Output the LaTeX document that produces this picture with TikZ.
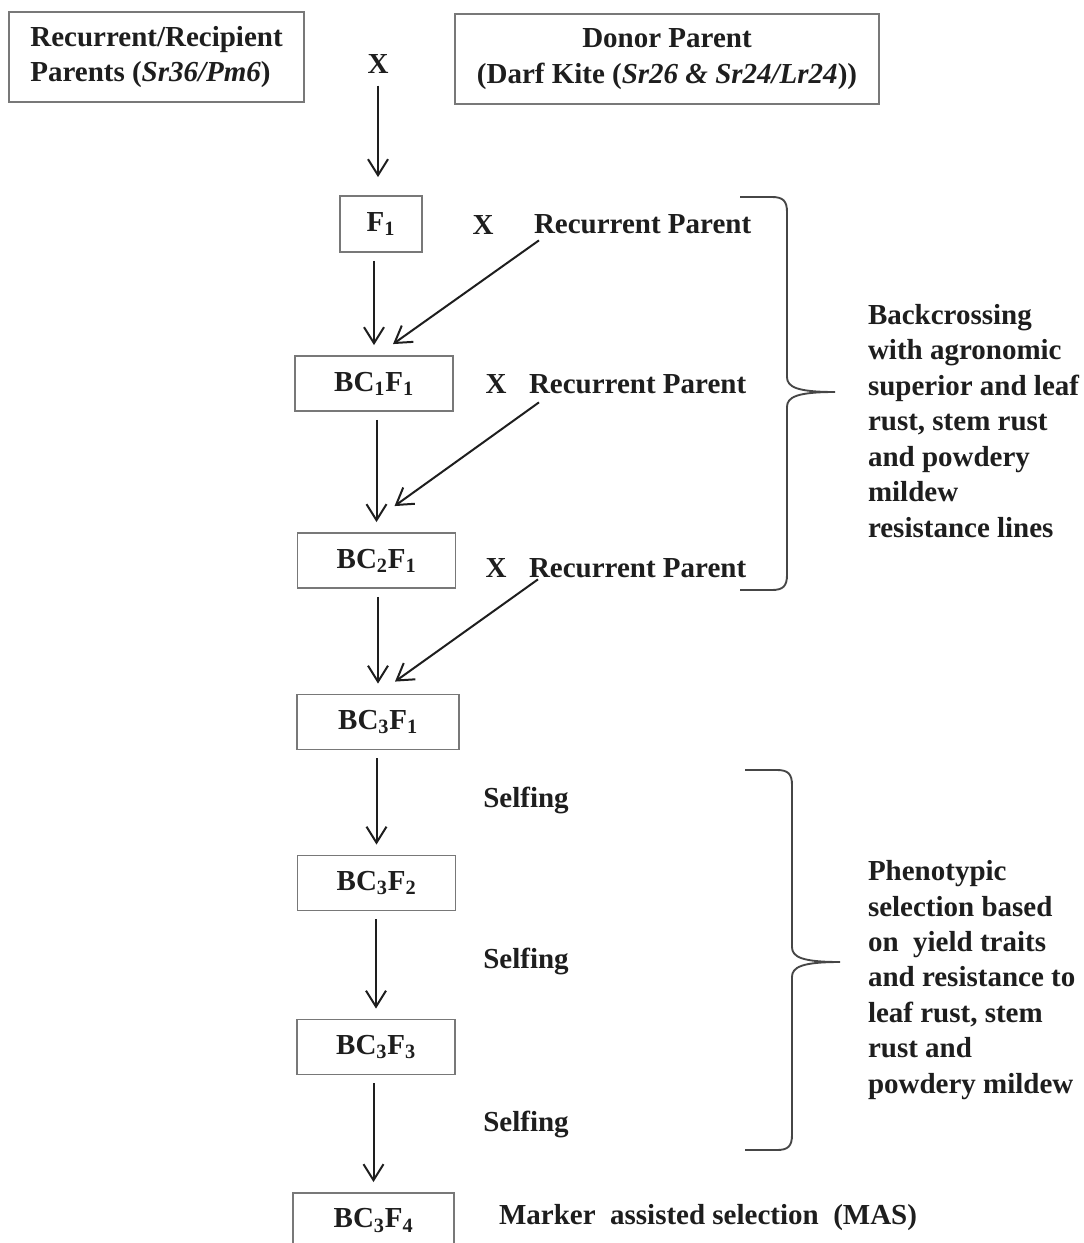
\documentclass[tikz,border=0pt]{standalone}
\usepackage{fontspec}
\setmainfont{Liberation Serif}
\usetikzlibrary{arrows.meta,calc}
\definecolor{inkblack}{RGB}{30,30,30}
\definecolor{boxgray}{RGB}{120,120,120}
\definecolor{bracegray}{RGB}{70,70,70}
\tikzset{every picture/.style={line width=1.5pt}}
\tikzset{
  every node/.style={font=\fontsize{21.75}{26.6}\selectfont\bfseries, text=inkblack},
  genbox/.style={draw=boxgray, line width=1.4pt, inner sep=0.75pt},
  lbl/.style={inner sep=0.75pt},
  flow/.style={draw=inkblack, line width=1.5pt, -{Straight Barb[length=12pt,width=15pt]}},
  bracket/.style={draw=bracegray, line width=1.4pt},
}

\begin{document}
\begin{tikzpicture}[x=0.75pt,y=0.75pt,yscale=-1,xscale=1]
\useasboundingbox (0,0) rectangle (1084,1243);

%Parent boxes
\node[genbox, minimum width=221.25pt, minimum height=67.5pt, align=left] (rec) at (156.5,57) {Recurrent/Recipient\\Parents (\textit{Sr36/Pm6})};
\node[genbox, minimum width=318pt, minimum height=67.5pt, align=center] (donor) at (667,59) {Donor Parent\\(Darf Kite (\textit{Sr26 \& Sr24/Lr24}))};
% Cross sign
\node[lbl, anchor=base] (cross) at (378,73) {X};

%Generation boxes
\node[genbox, minimum width=61.5pt, minimum height=42pt] (f1) at (381,224) {F\textsubscript{1}};
\node[genbox, minimum width=118.5pt, minimum height=41.25pt] (bc1) at (374,383.5) {BC\textsubscript{1}F\textsubscript{1}};
\node[genbox, minimum width=118.5pt, minimum height=41.25pt] (bc2) at (376.5,560.5) {BC\textsubscript{2}F\textsubscript{1}};
\node[genbox, minimum width=121.5pt, minimum height=41.25pt] (bc3a) at (378,722) {BC\textsubscript{3}F\textsubscript{1}};
\node[genbox, minimum width=118.5pt, minimum height=41.25pt] (bc3b) at (376.5,883) {BC\textsubscript{3}F\textsubscript{2}};
\node[genbox, minimum width=118.5pt, minimum height=41.25pt] (bc3c) at (376,1047) {BC\textsubscript{3}F\textsubscript{3}};
\node[genbox, minimum width=120.75pt, minimum height=41.25pt] (bc3d) at (373.5,1220.5) {BC\textsubscript{3}F\textsubscript{4}};

% Crosses with the recurrent parent
\node[lbl, anchor=base] (x1) at (483,234) {X};
\node[lbl, anchor=base west] (rp1) at (532,233) {Recurrent Parent};
\node[lbl, anchor=base] (x2) at (496,393) {X};
\node[lbl, anchor=base west] (rp2) at (527,393) {Recurrent Parent};
\node[lbl, anchor=base] (x3) at (496,577) {X};
\node[lbl, anchor=base west] (rp3) at (527,577) {Recurrent Parent};

% Selfing steps
\node[lbl, anchor=base] (self1) at (526,807) {Selfing};
\node[lbl, anchor=base] (self2) at (526,968) {Selfing};
\node[lbl, anchor=base] (self3) at (526,1131) {Selfing};
\node[lbl, anchor=base west] (mas) at (497,1224) {Marker\ \ assisted selection\ \ (MAS)};

% Brace notes
\node[lbl, anchor=west, align=left] (backnote) at (866,421) {Backcrossing\\with agronomic\\superior and leaf\\rust, stem rust\\and powdery\\mildew\\resistance lines};
\node[lbl, anchor=west, align=left] (phenonote) at (866,980) {Phenotypic\\selection based\\on\ \ yield traits\\and resistance to\\leaf rust, stem\\rust and\\powdery mildew};

%Arrows down the column
\draw[flow, shorten <=8pt, shorten >=13.5pt] (cross) -- (cross |- f1.north);
\foreach \s/\t in {f1/bc1, bc1/bc2, bc2/bc3a, bc3a/bc3b, bc3b/bc3c, bc3c/bc3d}
  \draw[flow, shorten <=6pt, shorten >=7.5pt] (\t |- \s.south) -- (\t.north);

%Arrows from the recurrent parent
\draw[flow] ($(rp1.south west)+(7,5)$) -- ($(bc1.north)+(19,-11)$);
\draw[flow] ($(rp2.south west)+(12,7)$) -- ($(bc2.north)+(18,-26)$);
\draw[flow] ($(rp3.south west)+(11,0)$) -- ($(bc3a.north)+(17,-12)$);

%Curly brace (backcrossing)
\draw[bracket] (740,197) -- (772,197) .. controls (783,197) and (787,201) .. (787,212) -- (787,377) .. controls (787,387) and (797,392) .. (835,392) .. controls (797,392) and (787,397) .. (787,407) -- (787,575) .. controls (787,586) and (783,590) .. (772,590) -- (740,590);
%Curly brace (selection)
\draw[bracket] (745,770) -- (777,770) .. controls (788,770) and (792,774) .. (792,785) -- (792,947) .. controls (792,957) and (802,962) .. (840,962) .. controls (802,962) and (792,967) .. (792,977) -- (792,1135) .. controls (792,1146) and (788,1150) .. (777,1150) -- (745,1150);

\end{tikzpicture}
\end{document}
